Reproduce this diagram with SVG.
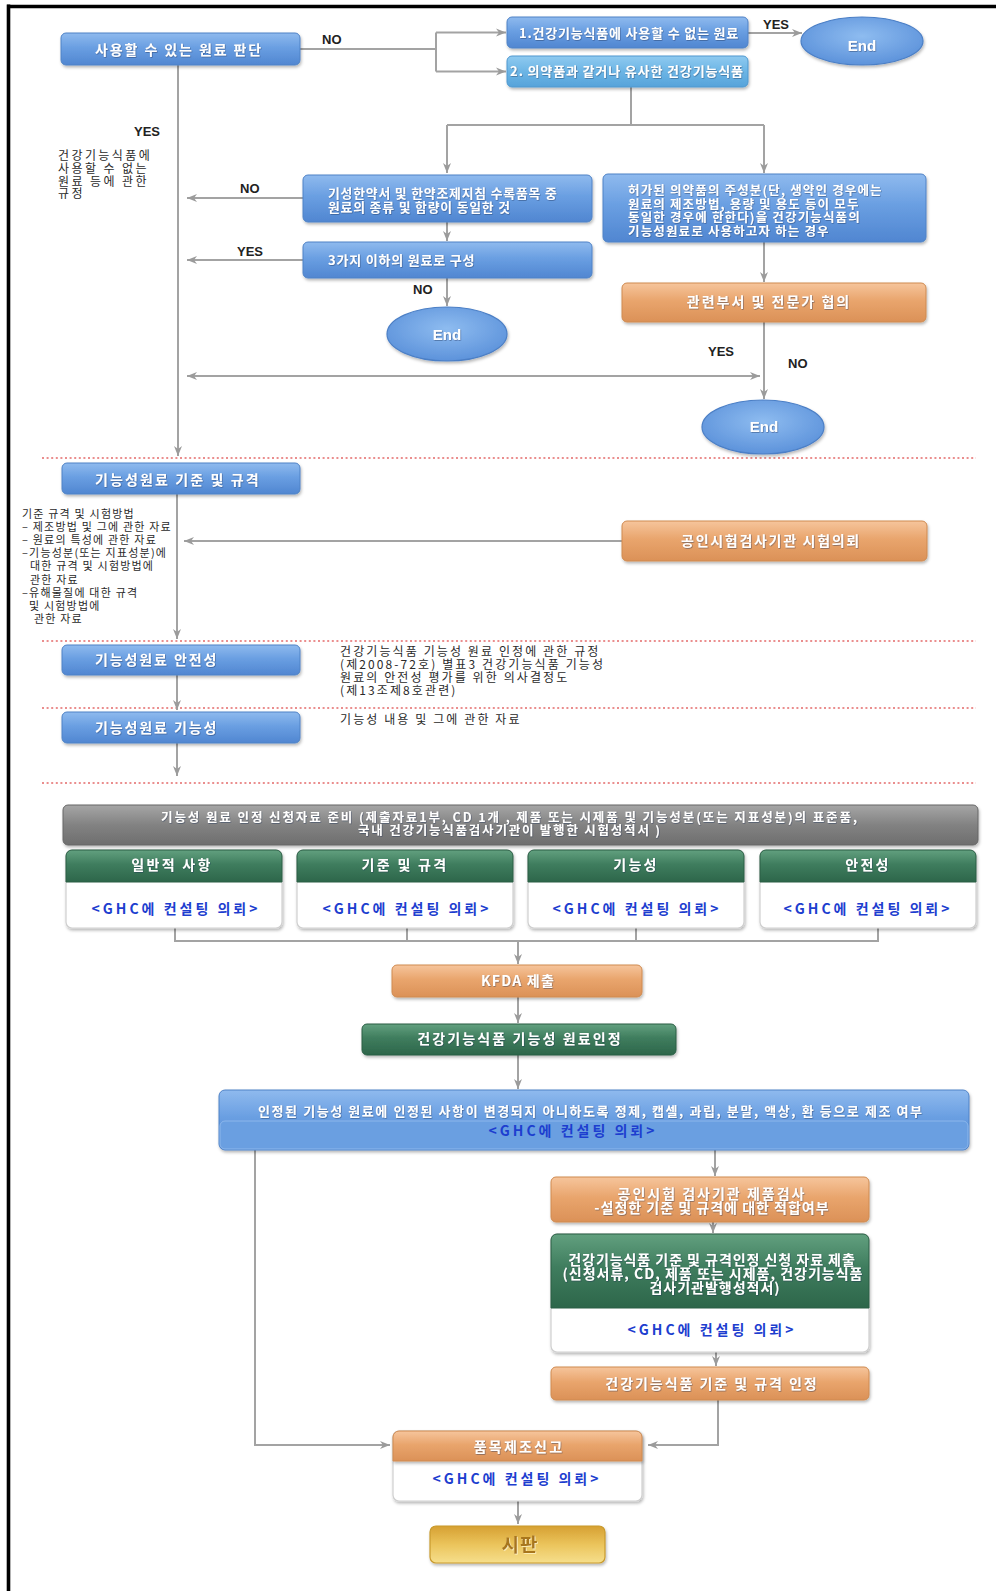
<svg xmlns="http://www.w3.org/2000/svg" width="996" height="1591" viewBox="0 0 996 1591">
<defs>
  <linearGradient id="gBlue" x1="0" y1="0" x2="0" y2="1">
    <stop offset="0" stop-color="#8fbaee"/>
    <stop offset="0.45" stop-color="#6a9fe2"/>
    <stop offset="1" stop-color="#5086d1"/>
  </linearGradient>
  <linearGradient id="gSky" x1="0" y1="0" x2="0" y2="1">
    <stop offset="0" stop-color="#8fcaf0"/>
    <stop offset="0.5" stop-color="#6cb5e5"/>
    <stop offset="1" stop-color="#56a3da"/>
  </linearGradient>
  <radialGradient id="gEll" cx="0.5" cy="0.4" r="0.62">
    <stop offset="0" stop-color="#8ebcf0"/>
    <stop offset="1" stop-color="#5b91da"/>
  </radialGradient>
  <linearGradient id="gOrange" x1="0" y1="0" x2="0" y2="1">
    <stop offset="0" stop-color="#f6c59c"/>
    <stop offset="0.45" stop-color="#e9a56d"/>
    <stop offset="1" stop-color="#db9157"/>
  </linearGradient>
  <linearGradient id="gGreen" x1="0" y1="0" x2="0" y2="1">
    <stop offset="0" stop-color="#62a07f"/>
    <stop offset="0.45" stop-color="#3f7d5e"/>
    <stop offset="1" stop-color="#2d664a"/>
  </linearGradient>
  <linearGradient id="gGray" x1="0" y1="0" x2="0" y2="1">
    <stop offset="0" stop-color="#a6a6a6"/>
    <stop offset="0.5" stop-color="#828282"/>
    <stop offset="1" stop-color="#6e6e6e"/>
  </linearGradient>
  <linearGradient id="gGold" x1="0" y1="0" x2="0" y2="1">
    <stop offset="0" stop-color="#d6a032"/>
    <stop offset="0.5" stop-color="#ebc45c"/>
    <stop offset="1" stop-color="#f6df8c"/>
  </linearGradient>
  <filter id="sh" x="-5%" y="-15%" width="112%" height="150%">
    <feDropShadow dx="1" dy="2" stdDeviation="1.4" flood-color="#000" flood-opacity="0.28"/>
  </filter>
  <filter id="ts" x="-5%" y="-20%" width="110%" height="150%">
    <feDropShadow dx="0.6" dy="0.7" stdDeviation="0.4" flood-color="#1b2f55" flood-opacity="0.55"/>
  </filter>
  <filter id="tsGold" x="-10%" y="-20%" width="120%" height="150%">
    <feDropShadow dx="0.8" dy="0.8" stdDeviation="0.3" flood-color="#fff6cf" flood-opacity="0.9"/>
  </filter>
  <marker id="ah" viewBox="0 0 10 10" refX="10" refY="5" markerWidth="10" markerHeight="10" markerUnits="userSpaceOnUse" orient="auto-start-reverse">
    <path d="M0,1 L10,5 L0,9 L3,5 z" fill="#9b9b9b"/>
  </marker>
  <style>
    .c { fill:none; stroke:#a3a3a3; stroke-width:2; }
    .a { marker-end:url(#ah); }
    .dash { fill:none; stroke:#e46a6a; stroke-width:1.3; stroke-dasharray:2 2.6; }
    .blue { fill:url(#gBlue); stroke:#4f82c6; stroke-width:1; filter:url(#sh); }
    .sky { fill:url(#gSky); stroke:#4e98cf; stroke-width:1; filter:url(#sh); }
    .ell { fill:url(#gEll); stroke:#4b7fc6; stroke-width:1.2; filter:url(#sh); }
    .org { fill:url(#gOrange); stroke:#cf8a50; stroke-width:1; filter:url(#sh); }
    .grn { fill:url(#gGreen); stroke:#2a5f45; stroke-width:1; }
    .gry { fill:url(#gGray); stroke:#666; stroke-width:1; filter:url(#sh); }
    .card { fill:#fff; stroke:#cfcfcf; stroke-width:1.2; filter:url(#sh); }
    .gold { fill:url(#gGold); stroke:#c99a2c; stroke-width:1.2; filter:url(#sh); }
    .bt { font-family:'Noto Sans CJK KR','Noto Sans',sans-serif; font-weight:700; fill:#fff; filter:url(#ts); }
    .en { font-family:'Liberation Sans',Arial,sans-serif; font-weight:700; fill:#fff; font-size:15px; text-anchor:middle; filter:url(#ts); }
    .lbl { font-family:'Liberation Sans',Arial,sans-serif; font-weight:700; fill:#222; font-size:13px; }
    .note { font-family:'Noto Sans CJK KR','Noto Sans',sans-serif; fill:#2a2a2a; font-size:12px; }
    .ghc { font-family:'Noto Sans CJK KR','Noto Sans',sans-serif; font-weight:700; fill:#1d3ecf; font-size:14px; letter-spacing:3px; text-anchor:middle; }
    .mid { text-anchor:middle; }
  </style>
</defs>

<rect x="0" y="0" width="996" height="1591" fill="#fff"/>

<!-- frame -->
<g id="frame" stroke="#000" fill="none">
  <line x1="8.5" y1="4.5" x2="8.5" y2="1591" stroke-width="3.6"/>
  <line x1="7" y1="6.5" x2="996" y2="6.5" stroke-width="3.4"/>
</g>

<!-- section separators -->
<g id="separators">
  <line class="dash" x1="42" y1="458" x2="976" y2="458"/>
  <line class="dash" x1="42" y1="641" x2="976" y2="641"/>
  <line class="dash" x1="42" y1="708" x2="976" y2="708"/>
  <line class="dash" x1="42" y1="783" x2="976" y2="783"/>
</g>

<!-- connectors -->
<g id="connectors">
  <path class="c" d="M300,49 H436 M436,32.5 V71.5"/>
  <path class="c a" d="M436,32.5 H506"/>
  <path class="c a" d="M436,71.5 H506"/>
  <path class="c a" d="M748,33 H802"/>
  <path class="c" d="M631,87 V125 M447,125 H764"/>
  <path class="c a" d="M447,125 V173"/>
  <path class="c a" d="M764,125 V173"/>
  <path class="c a" d="M178,65 V456"/>
  <path class="c a" d="M303,198 H187"/>
  <path class="c a" d="M447,222 V241"/>
  <path class="c a" d="M303,260 H187"/>
  <path class="c a" d="M447,278 V306"/>
  <path class="c a" d="M764,242 V282"/>
  <path class="c a" d="M764,322 V399"/>
  <path class="c a" d="M187,376 H760" marker-start="url(#ah)"/>
  <path class="c a" d="M177,494 V639"/>
  <path class="c a" d="M622,541 H184"/>
  <path class="c a" d="M177,675 V710"/>
  <path class="c a" d="M177,743 V776"/>
  <path class="c" d="M175,928 V941 H878 V928 M407,928 V941 M636,928 V941"/>
  <path class="c a" d="M518,941 V964"/>
  <path class="c a" d="M518,997 V1023"/>
  <path class="c a" d="M518,1055 V1089"/>
  <path class="c a" d="M715,1150 V1176"/>
  <path class="c a" d="M713,1222 V1233"/>
  <path class="c a" d="M716,1352 V1366"/>
  <path class="c a" d="M718,1400 V1445 H648"/>
  <path class="c a" d="M255,1150 V1445 H390"/>
  <path class="c a" d="M518,1501 V1524"/>
</g>

<!-- branch labels -->
<g id="labels">
  <text class="lbl" x="322" y="44">NO</text>
  <text class="lbl" x="763" y="29">YES</text>
  <text class="lbl" x="134" y="136">YES</text>
  <text class="lbl" x="240" y="193">NO</text>
  <text class="lbl" x="237" y="256">YES</text>
  <text class="lbl" x="413" y="294">NO</text>
  <text class="lbl" x="708" y="356">YES</text>
  <text class="lbl" x="788" y="368">NO</text>
</g>

<!-- side notes -->
<g id="note-rule" class="note" style="letter-spacing:2.4px">
  <text x="58" y="160">건강기능식품에</text>
  <text x="58" y="172.5">사용할 수 없는</text>
  <text x="58" y="185.5">원료  등에 관한</text>
  <text x="58" y="198">규정</text>
</g>
<g id="note-spec" class="note" style="font-size:11px;letter-spacing:1.2px">
  <text x="22" y="518">기준 규격 및 시험방법</text>
  <text x="22" y="531">– 제조방법 및 그에 관한 자료</text>
  <text x="22" y="544">– 원료의 특성에 관한 자료</text>
  <text x="22" y="557">–기능성분(또는 지표성분)에</text>
  <text x="30" y="570">대한 규격 및 시험방법에</text>
  <text x="30" y="583.5">관한 자료</text>
  <text x="22" y="596.5">–유해물질에 대한 규격</text>
  <text x="29" y="609.5">및 시험방법에</text>
  <text x="34" y="622.5">관한 자료</text>
</g>
<g id="note-safety" class="note" style="letter-spacing:2.1px">
  <text x="340" y="656">건강기능식품 기능성 원료 인정에 관한 규정</text>
  <text x="340" y="669">(제2008-72호) 별표3 건강기능식품 기능성</text>
  <text x="340" y="682">원료의 안전성 평가를 위한 의사결정도</text>
  <text x="340" y="695">(제13조제8호관련)</text>
</g>
<g id="note-function" class="note" style="letter-spacing:2.1px">
  <text x="340" y="724">기능성 내용 및 그에 관한 자료</text>
</g>

<!-- decision part -->
<g id="n-judge">
  <rect class="blue" x="61" y="33" width="239" height="32" rx="5"/>
  <text class="bt" x="95" y="55" font-size="14" letter-spacing="1.9">사용할 수 있는 원료 판단</text>
</g>
<g id="n-banned">
  <rect class="blue" x="507" y="17" width="241" height="31" rx="5"/>
  <text class="bt mid" x="629" y="37.5" font-size="13" letter-spacing="0.8">1.건강기능식품에 사용할 수 없는 원료</text>
</g>
<g id="n-end1">
  <ellipse class="ell" cx="862" cy="41" rx="61" ry="24"/>
  <text class="en" x="862" y="51">End</text>
</g>
<g id="n-similar">
  <rect class="sky" x="507" y="56" width="241" height="31" rx="5"/>
  <text class="bt mid" x="627" y="76" font-size="13" letter-spacing="0.85">2. 의약품과 같거나 유사한 건강기능식품</text>
</g>
<g id="n-herbal">
  <rect class="blue" x="303" y="175" width="289" height="47" rx="5"/>
  <text class="bt" x="328" y="198" font-size="12.8" letter-spacing="0.85">기성한약서 및 한약조제지침 수록품목 중</text>
  <text class="bt" x="328" y="211.5" font-size="12.8" letter-spacing="0.85">원료의 종류 및 함량이 동일한 것</text>
</g>
<g id="n-three">
  <rect class="blue" x="303" y="242" width="289" height="36" rx="5"/>
  <text class="bt" x="328" y="265" font-size="13" letter-spacing="0.8">3가지 이하의 원료로 구성</text>
</g>
<g id="n-end2">
  <ellipse class="ell" cx="447" cy="334" rx="60" ry="27"/>
  <text class="en" x="447" y="340">End</text>
</g>
<g id="n-drug">
  <rect class="blue" x="603" y="174" width="323" height="68" rx="5"/>
  <text class="bt" x="628" y="195" font-size="12.5" letter-spacing="1.15">허가된 의약품의 주성분(단, 생약인 경우에는</text>
  <text class="bt" x="628" y="208.5" font-size="12.5" letter-spacing="1.15">원료의 제조방법, 용량 및 용도 등이 모두</text>
  <text class="bt" x="628" y="222" font-size="12.5" letter-spacing="1.15">동일한 경우에 한한다)을 건강기능식품의</text>
  <text class="bt" x="628" y="235.5" font-size="12.5" letter-spacing="1.15">기능성원료로 사용하고자 하는 경우</text>
</g>
<g id="n-consult">
  <rect class="org" x="622" y="283" width="304" height="39" rx="5"/>
  <text class="bt mid" x="769" y="307" font-size="14" letter-spacing="2">관련부서 및 전문가 협의</text>
</g>
<g id="n-end3">
  <ellipse class="ell" cx="763" cy="427" rx="61" ry="27"/>
  <text class="en" x="764" y="432">End</text>
</g>

<!-- functional ingredient review -->
<g id="n-spec">
  <rect class="blue" x="62" y="463" width="238" height="31" rx="5"/>
  <text class="bt" x="95" y="484.5" font-size="14" letter-spacing="2.1">기능성원료 기준 및 규격</text>
</g>
<g id="n-lab">
  <rect class="org" x="622" y="521" width="305" height="40" rx="5"/>
  <text class="bt mid" x="771" y="546" font-size="14" letter-spacing="1.7">공인시험검사기관 시험의뢰</text>
</g>
<g id="n-safety">
  <rect class="blue" x="62" y="645" width="238" height="30" rx="5"/>
  <text class="bt" x="95" y="665" font-size="14" letter-spacing="1.9">기능성원료 안전성</text>
</g>
<g id="n-function">
  <rect class="blue" x="62" y="712" width="238" height="31" rx="5"/>
  <text class="bt" x="95" y="733" font-size="14" letter-spacing="1.9">기능성원료 기능성</text>
</g>

<!-- application -->
<g id="n-prepare">
  <rect class="gry" x="63" y="805" width="915" height="40" rx="5"/>
  <text class="bt mid" x="509" y="822" font-size="12.5" textLength="696">기능성 원료 인정 신청자료 준비  (제출자료1부, CD 1개 , 제품 또는 시제품 및 기능성분(또는 지표성분)의 표준품,</text>
  <text class="bt mid" x="509" y="835" font-size="12.5" textLength="302">국내 건강기능식품검사기관이 발행한 시험성적서 )</text>
</g>
<g id="n-general">
  <rect class="card" x="66" y="850" width="216" height="78" rx="6"/>
  <path class="grn" d="M66,882V856a6,6 0 0 1 6,-6H276a6,6 0 0 1 6,6V882Z"/>
  <text class="bt mid" x="172" y="870" font-size="14" letter-spacing="2.3">일반적 사항</text>
  <text class="ghc" x="176" y="914">&lt;GHC에 컨설팅 의뢰&gt;</text>
</g>
<g id="n-standard">
  <rect class="card" x="297" y="850" width="216" height="78" rx="6"/>
  <path class="grn" d="M297,882V856a6,6 0 0 1 6,-6H507a6,6 0 0 1 6,6V882Z"/>
  <text class="bt mid" x="405" y="870" font-size="14" letter-spacing="2.3">기준 및 규격</text>
  <text class="ghc" x="407" y="914">&lt;GHC에 컨설팅 의뢰&gt;</text>
</g>
<g id="n-efficacy">
  <rect class="card" x="528" y="850" width="216" height="78" rx="6"/>
  <path class="grn" d="M528,882V856a6,6 0 0 1 6,-6H738a6,6 0 0 1 6,6V882Z"/>
  <text class="bt mid" x="636" y="870" font-size="14" letter-spacing="2.3">기능성</text>
  <text class="ghc" x="637" y="914">&lt;GHC에 컨설팅 의뢰&gt;</text>
</g>
<g id="n-safe">
  <rect class="card" x="760" y="850" width="216" height="78" rx="6"/>
  <path class="grn" d="M760,882V856a6,6 0 0 1 6,-6H970a6,6 0 0 1 6,6V882Z"/>
  <text class="bt mid" x="868" y="870" font-size="14" letter-spacing="2.3">안전성</text>
  <text class="ghc" x="868" y="914">&lt;GHC에 컨설팅 의뢰&gt;</text>
</g>
<g id="n-kfda">
  <rect class="org" x="392" y="965" width="250" height="32" rx="5"/>
  <text class="bt mid" x="518" y="986" font-size="14" letter-spacing="1.2">KFDA 제출</text>
</g>
<g id="n-approved">
  <rect class="grn" x="362" y="1024" width="314" height="31" rx="5" filter="url(#sh)"/>
  <text class="bt mid" x="520" y="1044" font-size="14" letter-spacing="2.1">건강기능식품  기능성 원료인정</text>
</g>

<!-- manufacturing -->
<g id="n-manufacture">
  <rect class="blue" x="219" y="1090" width="750" height="60" rx="6"/>
  <rect x="220" y="1121" width="748" height="28" rx="5" fill="#6a9fe1" stroke="#8cb7ec" stroke-width="1"/>
  <text class="bt mid" x="590" y="1116" font-size="13" textLength="664">인정된 기능성 원료에  인정된 사항이 변경되지 아니하도록 정제, 캡셀, 과립, 분말, 액상, 환 등으로 제조 여부</text>
  <text class="ghc" x="573" y="1136" font-size="13" letter-spacing="2">&lt;GHC에 컨설팅 의뢰&gt;</text>
</g>
<g id="n-inspect">
  <rect class="org" x="551" y="1177" width="318" height="45" rx="5"/>
  <text class="bt mid" x="712" y="1198.5" font-size="14" letter-spacing="2">공인시험 검사기관 제품검사</text>
  <text class="bt mid" x="712" y="1213" font-size="14" letter-spacing="1">-설정한 기준  및 규격에 대한 적합여부</text>
</g>
<g id="n-submit">
  <rect class="card" x="551" y="1234" width="318" height="118" rx="6"/>
  <path class="grn" d="M551,1308V1240a6,6 0 0 1 6,-6H863a6,6 0 0 1 6,6V1308Z"/>
  <text class="bt mid" x="712" y="1265" font-size="14" letter-spacing="0.95">건강기능식품 기준 및 규격인정 신청 자료 제출</text>
  <text class="bt mid" x="713" y="1279" font-size="14" letter-spacing="1">(신청서류, CD, 제품 또는 시제품, 건강기능식품</text>
  <text class="bt mid" x="715" y="1293" font-size="14" letter-spacing="1">검사기관발행성적서)</text>
  <text class="ghc" x="712" y="1335">&lt;GHC에 컨설팅 의뢰&gt;</text>
</g>
<g id="n-standard-ok">
  <rect class="org" x="551" y="1367" width="318" height="33" rx="5"/>
  <text class="bt mid" x="712" y="1389" font-size="14" letter-spacing="1.95">건강기능식품 기준 및 규격 인정</text>
</g>
<g id="n-report">
  <rect class="card" x="393" y="1431" width="249" height="70" rx="6"/>
  <path class="org" d="M393,1461V1437a6,6 0 0 1 6,-6H636a6,6 0 0 1 6,6V1461Z"/>
  <text class="bt mid" x="519" y="1452" font-size="14" letter-spacing="2.2">품목제조신고</text>
  <text class="ghc" x="517" y="1484">&lt;GHC에 컨설팅 의뢰&gt;</text>
</g>
<g id="n-market">
  <rect class="gold" x="430" y="1526" width="175" height="37" rx="6"/>
  <text x="520" y="1552" text-anchor="middle" font-family="'Noto Sans CJK KR','Noto Sans',sans-serif" font-weight="700" font-size="19" fill="#a8761a" letter-spacing="1" filter="url(#tsGold)">시판</text>
</g>
</svg>
